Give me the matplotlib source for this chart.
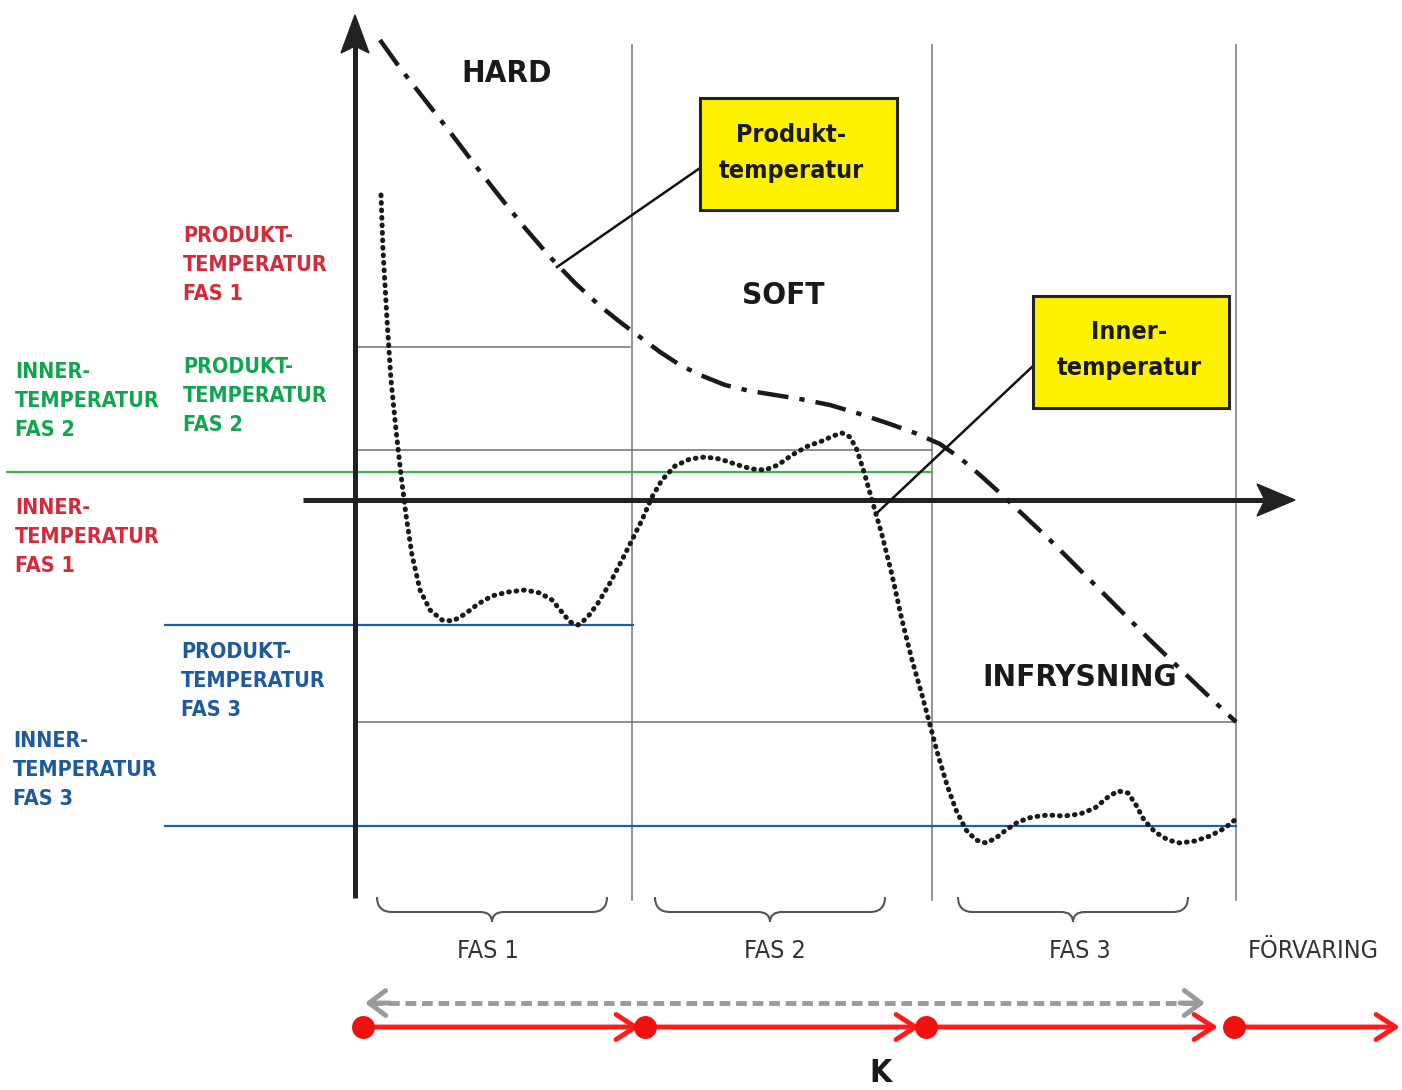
import matplotlib.pyplot as plt
from matplotlib.path import Path
from matplotlib.patches import PathPatch, Rectangle, Polygon
import matplotlib.font_manager as fm

# --- data (image pixel coordinates, y grows downwards) ---
produkt_x = [380, 400, 425, 450, 475, 500, 525, 550, 575, 600, 620, 640, 660, 680, 700, 725,
             750, 775, 800, 830, 860, 890, 915, 940, 960, 980, 1000, 1050, 1100, 1150, 1200, 1236]
produkt_y = [40, 68, 100, 132, 165, 197, 228, 257, 283, 306, 322, 337, 352, 365, 375, 385,
             391, 395, 399, 405, 414, 424, 433, 444, 458, 475, 493, 540, 590, 640, 688, 722]

inner_x = [381, 383, 387, 391, 396, 401, 406, 412, 420, 430, 442, 453, 465, 478, 492, 508,
           525, 540, 552, 561, 570, 578, 587, 598, 610, 622, 632, 642, 652, 662, 675, 690,
           705, 720, 738, 752, 765, 778, 792, 808, 822, 833, 842, 850, 857, 864, 872, 882,
           892, 902, 912, 922, 930, 938, 947, 956, 966, 976, 986, 996, 1006, 1018, 1032, 1048,
           1064, 1080, 1095, 1108, 1118, 1128, 1136, 1144, 1155, 1168, 1180, 1195, 1210, 1225, 1236]
inner_y = [195, 250, 320, 380, 430, 475, 515, 555, 590, 610, 620, 621, 614, 604, 596, 592,
           590, 593, 600, 611, 622, 625, 618, 603, 583, 560, 540, 520, 497, 480, 466, 459,
           457, 459, 465, 469, 470, 465, 455, 446, 441, 436, 433, 437, 450, 472, 500, 535,
           575, 620, 660, 695, 725, 755, 785, 810, 830, 840, 843, 838, 830, 822, 817, 815,
           816, 814, 808, 797, 791, 793, 805, 820, 832, 840, 843, 841, 836, 828, 819]

phase_bounds = [632, 932, 1236]
grey_levels = [(347, 355, 630), (450, 355, 932), (722, 355, 1236)]
color_levels = [(472, 7, 932, '#3db54a'), (625, 165, 633, '#1f5fa6'), (826, 165, 1236, '#1f5fa6')]

red = '#d42a3a'
green = '#10a650'
blue = '#1d5b9e'
side_labels = [
    ("PRODUKT-\nTEMPERATUR\nFAS 1", 183, 265, red),
    ("INNER-\nTEMPERATUR\nFAS 2", 15, 401, green),
    ("PRODUKT-\nTEMPERATUR\nFAS 2", 183, 396, green),
    ("INNER-\nTEMPERATUR\nFAS 1", 15, 537, red),
    ("PRODUKT-\nTEMPERATUR\nFAS 3", 181, 681, blue),
    ("INNER-\nTEMPERATUR\nFAS 3", 13, 770, blue),
]
zone_labels = [("HARD", 507, 74), ("SOFT", 783, 295), ("INFRYSNING", 1080, 677)]
phase_labels = ["FAS 1", "FAS 2", "FAS 3", "FÖRVARING"]
phase_label_x = [488, 775, 1080, 1313]
braces = [(377, 607), (655, 885), (958, 1188)]
timeline_nodes = [363, 645, 926, 1234]
timeline_ends = [640, 920, 1218, 1400]

y_axis = (355, 898, 15)     # x, bottom, tip
x_axis = (500, 303, 1295)   # y, left, tip


def pick_font(bold):
    # look for a condensed / narrow face, fall back to DejaVu Sans
    best = None
    for f in fm.fontManager.ttflist:
        name = f.fname.lower()
        if 'italic' in name or 'oblique' in name:
            continue
        if not ('condensed' in name or 'narrow' in name or f.stretch in ('condensed', 'semi-condensed')):
            continue
        w = f.weight if isinstance(f.weight, int) else {'bold': 700, 'normal': 400, 'light': 300}.get(f.weight, 400)
        if bold and w == 700:
            score = 0
        elif not bold and w in (300, 400):
            score = 0 if w == 400 else 1
        else:
            continue
        if 'dejavu' in name:
            score += 0
        elif 'roboto' in name or 'liberation' in name:
            score += 2
        else:
            score += 4
        if best is None or score < best[0]:
            best = (score, f.fname)
    if best is None:
        return fm.FontProperties(family='DejaVu Sans', weight='bold' if bold else 'normal')
    return fm.FontProperties(fname=best[1])


fp_bold = pick_font(True)
fp_reg = pick_font(False)

fig = plt.figure(figsize=(14.02, 10.90), dpi=100)
ax = fig.add_axes([0, 0, 1, 1])
ax.set_xlim(0, 1402)
ax.set_ylim(1090, 0)
ax.axis('off')

# helper lines
for xb in phase_bounds:
    ax.plot([xb, xb], [45, 900], color='#808080', lw=1.2, zorder=1)
for y, x0, x1 in grey_levels:
    ax.plot([x0, x1], [y, y], color='#707070', lw=1.1, zorder=1)
for y, x0, x1, c in color_levels:
    ax.plot([x0, x1], [y, y], color=c, lw=1.6, zorder=1)

# axes with stealth arrow heads
ax_col = '#222222'
ax.plot([y_axis[0], y_axis[0]], [y_axis[1], y_axis[2] + 30], color=ax_col, lw=3.6, zorder=3,
        solid_capstyle='butt')
ax.plot([x_axis[1], x_axis[2] - 30], [x_axis[0], x_axis[0]], color=ax_col, lw=3.6, zorder=3,
        solid_capstyle='butt')
yx, _, yt = y_axis
ax.add_patch(Polygon([(yx, yt), (yx + 14, yt + 38), (yx, yt + 31), (yx - 14, yt + 38)],
                     closed=True, color=ax_col, zorder=3))
xy, _, xt = x_axis
ax.add_patch(Polygon([(xt, xy), (xt - 38, xy + 16), (xt - 30, xy), (xt - 38, xy - 16)],
                     closed=True, color=ax_col, zorder=3))

# curves
ax.plot(produkt_x, produkt_y, color='#1a1a1a', lw=3.2, linestyle=(0, (7, 2.5, 1.2, 2.5)),
        zorder=4)
ax.plot(inner_x, inner_y, color='#1a1a1a', lw=3.6, linestyle=(0, (0.15, 1.35)),
        dash_capstyle='round', zorder=4)

# callout boxes
for (bx, by, bw, bh, txt, tx, ty, lx, ly) in [
        (700, 98, 197, 112, "Produkt-\ntemperatur", 791, 153, 557, 267),
        (1033, 296, 196, 112, "Inner-\ntemperatur", 1129, 350, 878, 512)]:
    ax.plot([lx, bx], [ly, by + 70], color='#111111', lw=1.8, zorder=5)
    ax.add_patch(Rectangle((bx, by), bw, bh, facecolor='#fff200', edgecolor='#222222',
                           lw=2.2, zorder=6))
    ax.text(tx, ty, txt, ha='center', va='center', fontproperties=fp_bold, fontsize=18,
            color='#1a1a1a', linespacing=1.65, zorder=7)

for txt, x, y in zone_labels:
    ax.text(x, y, txt, ha='center', va='center', fontproperties=fp_bold, fontsize=22.5,
            color='#1a1a1a')

for txt, x, y, c in side_labels:
    ax.text(x, y, txt, ha='left', va='center', fontproperties=fp_bold, fontsize=15.5,
            color=c, linespacing=1.55)

# braces under the phases
for x0, x1 in braces:
    xc = (x0 + x1) / 2
    verts = [(x0, 897), (x0, 912), (x0 + 15, 912), (xc - 12, 912), (xc, 912), (xc, 922),
             (xc, 912), (xc + 12, 912), (x1 - 15, 912), (x1, 912), (x1, 897)]
    codes = [Path.MOVETO, Path.CURVE3, Path.CURVE3, Path.LINETO, Path.CURVE3, Path.CURVE3,
             Path.CURVE3, Path.CURVE3, Path.LINETO, Path.CURVE3, Path.CURVE3]
    ax.add_patch(PathPatch(Path(verts, codes), facecolor='none', edgecolor='#555555', lw=1.5))

for txt, x in zip(phase_labels, phase_label_x):
    ax.text(x, 951, txt, ha='center', va='center', fontproperties=fp_reg, fontsize=18,
            color='#333333')

# grey double arrow
ax.plot([372, 1198], [1003, 1003], color='#9a9a9a', lw=3.5, linestyle=(0, (2.2, 1.2)))
grey_head = dict(arrowstyle='->,head_length=0.6,head_width=0.45', color='#9a9a9a', lw=3.5,
                 shrinkA=0, shrinkB=0, mutation_scale=20)
ax.annotate('', xy=(365, 1003), xytext=(390, 1003), arrowprops=grey_head)
ax.annotate('', xy=(1205, 1003), xytext=(1180, 1003), arrowprops=grey_head)

# red timeline
red_head = dict(arrowstyle='->,head_length=0.7,head_width=0.45', color='#ff1a1a', lw=3.5,
                shrinkA=0, shrinkB=0, mutation_scale=20)
for x0, x1 in zip(timeline_nodes, timeline_ends):
    ax.annotate('', xy=(x1, 1027), xytext=(x0, 1027), arrowprops=red_head)
ax.scatter(timeline_nodes, [1027] * len(timeline_nodes), s=240, color='#f01010', zorder=5)

ax.text(880, 1073, "K", ha='center', va='center', fontproperties=fp_bold, fontsize=23,
        color='#1a1a1a')

fig.savefig('out.png', dpi=100)
